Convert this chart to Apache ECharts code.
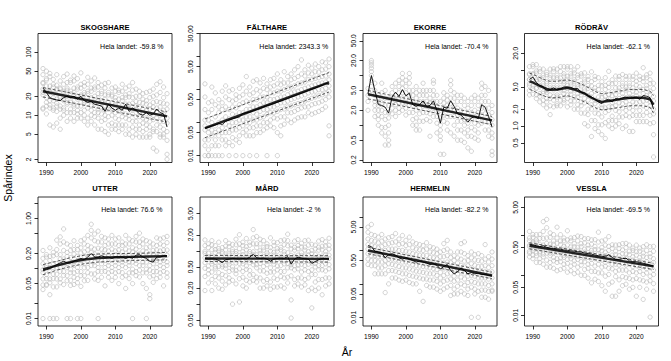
<!DOCTYPE html>
<html><head><meta charset="utf-8">
<script src="https://cdn.jsdelivr.net/npm/echarts@6/dist/echarts.min.js"></script>
<style>html,body{margin:0;padding:0;background:#fff}#c{width:671px;height:361px}</style>
</head><body><div id="c"></div>
<script>
const years = [1989,1990,1991,1992,1993,1994,1995,1996,1997,1998,1999,2000,2001,2002,2003,2004,2005,2006,2007,2008,2009,2010,2011,2012,2013,2014,2015,2016,2017,2018,2019,2020,2021,2022,2023,2024,2025];
const titles = ['SKOGSHARE','FÄLTHARE','EKORRE','RÖDRÄV','UTTER','MÅRD','HERMELIN','VESSLA'];
const changes = ['-59.8','2343.3','-70.4','-62.1','76.6','-2','-82.2','-69.5'];
const xTicks = [1990,2000,2010,2020];
const yMin = [1.78,0.0062,0.178,0.223,0.0071,0.039,0.0055,0.0054];
const yMax = [198,50.5,70,45,2.7,10.2,39.7,9.1];
const yTicks = [[2,5,10,20,50,100],[0.01,0.05,0.1,0.5,1,5,10,50],[0.2,0.5,1,2,5,10,20,50],[0.5,1,2,5,10,20],[0.01,0.02,0.05,0.1,0.2,0.5,1,2],[0.05,0.1,0.2,0.5,1,2,5],[0.01,0.05,0.1,0.5,1,5,10],[0.01,0.05,0.1,0.5,1,5]];
const yLabels = [['2','5','10','20','50','100'],['0.01','0.05','0.50','5.00','50.00'],['0.2','0.5','2.0','5.0','20.0','50.0'],['0.5','1.0','2.0','5.0','20.0'],['0.01','0.05','0.20','1.00'],['0.05','0.20','0.50','2.00','5.00'],['0.01','0.05','0.50','5.00'],['0.01','0.05','0.50','5.00']];

// ---- SKOGSHARE ----
const skogObs = [[55,44,33,32,26,23,21,13,12.5],[50,38,36,29,24,19,16,14,10.5],[46,41,29,24,23,17,14.5,13,7],[37,31,28,22,19,17,13,12,6.5],[44,30,26,25,18,15.5,14,11.5,7.5],[35,27,26,20,19,14,12.5,9,6],[41,31,24,23,18,17,13,12,10],[45,33,27,25,20,16,15,11,8],[36,33,24,22,17,16,12.5,11,9],[42,35,27,23,21,15,14,11,8],[38,28,26,20,18,14,12,10.5,9],[47,31,27,21,20,16,14,11,9],[33,29,23,21,17,16,12,10,8],[40,31,24,22,17,15,13,9,7],[35,27,24,19,18,14.5,12,10,8],[39,28,26,20,16,15,11,9.5,7],[33,28,22,19,17,12.5,11,9,6],[30,24,22,17,16,13,10.5,8,6],[32,27,21,18,14,12,10,8.5,5.5],[33,23,21,16,14,12.5,9.5,7,5],[27,21,20,16,13.5,12,10,7.5,6],[28,24,19,17,14.5,11,9,7,6],[25,23,18,14.5,13,11.5,8.5,7,5.5],[31,24,19,17,13,11,9.5,7,6],[27,21,19,15,13.5,10.5,9,7,5],[29,22,19.5,15,13,10,8.5,6,5],[33,25,19,15.5,12,10.5,8,6.5,4.5],[26,20,16.5,14,12.5,9.5,8,6,5],[24,20,16,13.5,11,9.5,7,6,4.5],[22,18,15.5,12.5,11,9,7.5,5.5,4.5],[23,17,15,12,10.5,8.5,7,6,4.5],[24,19,14.5,12.5,10,8,6.5,5,4.5],[26,20,16,13.5,10,8.5,6,5.5,3],[31,21,16.5,13,11.5,9,7,5.5,2.7],[34,23,16,13.5,10,8,6.5,5,4.5],[28,19,15.5,12,10.5,8,6,5,4.5],[22,15,12.5,9,7.5,5.5,4,2.4,2]];
const skogIndex = [27,23,19,18,17.5,17,19,20,19,20,18,20,17,16,16.5,15,14.5,14,11.5,15,13,12,13,12,15,11.5,13,12,10.5,10,11,10,10.5,12.5,11,10.5,6.5];
const skogKnots = [1989,2025];
const skogTrend = [24,9.6];
const skogUpper = [27.5,11.3];
const skogLower = [19.5,7.8];

// ---- FÄLTHARE ----
const faltObs = [[1.5,0.6,0.25,0.12,0.08,0.06,0.03,0.02,0.01],[0.4,0.2,0.12,0.07,0.05,0.03,0.015,0.01,0.01],[1.2,0.45,0.25,0.1,0.06,0.04,0.02,0.01],[0.8,0.35,0.15,0.08,0.05,0.03,0.02,0.01],[0.5,0.3,0.2,0.1,0.06,0.04,0.02,0.01],[0.9,0.4,0.25,0.12,0.07,0.05,0.03,0.01],[1.3,0.6,0.3,0.15,0.09,0.05,0.03,0.02],[0.9,0.5,0.25,0.13,0.08,0.05,0.025,0.01],[1.0,0.45,0.3,0.18,0.1,0.06,0.035,0.02],[0.7,0.5,0.28,0.16,0.1,0.06,0.03,0.01],[1.1,0.6,0.35,0.2,0.12,0.07,0.04,0.025],[1.4,0.7,0.4,0.2,0.12,0.08,0.05,0.01],[2.5,0.9,0.45,0.25,0.15,0.1,0.06,0.04],[1.2,0.7,0.4,0.25,0.15,0.1,0.07,0.04,0.01],[1.8,0.8,0.5,0.3,0.2,0.12,0.07,0.04],[2.0,1.0,0.5,0.3,0.18,0.12,0.08,0.05,0.01],[1.6,0.9,0.6,0.35,0.22,0.14,0.08,0.05],[2.2,1.1,0.6,0.4,0.25,0.15,0.1,0.06],[1.5,1.0,0.6,0.4,0.25,0.18,0.1,0.07,0.01],[2.0,1.2,0.8,0.5,0.3,0.2,0.12,0.08],[2.2,1.3,0.8,0.5,0.3,0.2,0.14,0.07],[3.0,1.5,0.9,0.55,0.35,0.22,0.13,0.05,0.01],[2.0,1.4,0.9,0.6,0.4,0.25,0.15,0.08,0.04],[3.5,1.6,1.0,0.6,0.4,0.26,0.15,0.09],[2.5,1.6,1.1,0.7,0.45,0.3,0.2,0.12],[3.0,2.0,1.2,0.8,0.5,0.32,0.2,0.1],[4.0,2.2,1.3,0.85,0.55,0.35,0.22,0.12],[5.0,2.5,1.5,0.9,0.6,0.38,0.25,0.14],[8.0,3.0,1.6,1.0,0.65,0.4,0.28,0.15],[4.0,2.6,1.7,1.1,0.7,0.45,0.3,0.15],[5.5,3.2,2.0,1.2,0.8,0.5,0.3,0.2],[4.5,3.0,2.0,1.3,0.85,0.55,0.35,0.18],[6.0,3.5,2.2,1.4,0.9,0.6,0.38,0.2],[5.0,3.4,2.3,1.5,1.0,0.65,0.4,0.22],[7.0,4.0,2.5,1.6,1.0,0.7,0.45,0.25],[6.5,4.2,2.6,1.7,1.1,0.75,0.5,0.3],[8.5,5.0,3.0,2.0,1.3,0.9,0.6,0.08,0.04]];
const faltIndex = [0.068,0.072,0.08,0.085,0.095,0.088,0.11,0.12,0.13,0.14,0.15,0.19,0.2,0.21,0.23,0.25,0.27,0.3,0.33,0.35,0.38,0.42,0.45,0.5,0.54,0.6,0.65,0.72,0.78,0.86,0.95,1.03,1.12,1.25,1.35,1.55,1.45];
const faltKnots = [1989,2025];
const faltTrend = [0.068,1.66];
const faltUpper = [0.13,3.3];
const faltLower = [0.035,0.85];

// ---- EKORRE ----
const ekorObs = [[5.5,4,3,2],[20,18,16,14,12,10,8,6,5],[7,5,4,3,2.5,2,1.5],[4,3,2.5,2,1.6,1.3,1],[7,4.5,3.5,2.6,2,1.5,0.9,0.7],[5,3.5,2.5,1.8,1.3,0.9,0.6,0.4],[3.5,2.5,1.8,1.4,1,0.7,0.5,0.4],[6,4.5,3.5,2.8,2.2,1.7],[7,5,4,3.2,2.6,2,1.5],[8,6,4.5,3.5,2.8,2.2,1.8],[11,9,7,5.5,4.5,3.5,2.8,2],[8,6,4.5,3.5,2.8,2.2,1.6],[11,9,7,5,4,3,2.5,1.8],[5,4,3,2.4,1.8,1.3,1],[6,4.5,3.5,2.6,2,1.4,1,0.8],[5,4,3,2.2,1.7,1.2,0.8],[7,5,4,3,2.4,1.8,1.2],[5,4,3,2.4,1.8,1.3],[5,3.5,2.8,2.2,1.7,1.2,0.6],[8,7,5,4,3,2.2,1.5],[4,3,2.4,1.9,1.5,1.1,0.7],[3,2,1.4,1,0.8,0.6,0.5,0.26],[4.5,3.5,2.8,2.2,1.6,1.2,0.26],[4,3.2,2.5,2,1.5,1.1,0.8],[8,6.5,5,3.5,2.7,2,1.5,0.7],[4.5,3.5,2.5,2,1.5,1,0.6],[4,3,2.2,1.6,1.2,0.8,0.5],[4,3,2,1.6,1.2,0.8,0.5],[3.5,2.5,1.8,1.3,1,0.7,0.45],[3,2.2,1.5,1.1,0.8,0.6,0.35],[3.5,2.5,1.8,1.3,0.9,0.6,0.3],[4,3,2,1.5,1.1,0.8,0.55],[3.5,2.5,1.8,1.3,1,0.7,0.5],[7,5.5,4,3,2.2,1.6,1.1],[6,4,3,2.2,1.7,1.2,0.8],[5,3,2.2,1.6,1.2,0.8,0.6],[2.5,1.8,1.3,1,0.7,0.55,0.3,0.25]];
const ekorIndex = [4.3,10,5.0,2.6,2.5,2.3,1.75,3.7,4.6,3.8,5.2,3.9,4.4,2.6,2.4,2.6,3.1,2.4,2.5,3.1,2.0,1.1,2.3,2.2,3.1,2.4,1.7,1.6,1.35,1.15,1.4,1.5,1.35,2.6,2.3,1.5,0.92];
const ekorKnots = [1989,2025];
const ekorTrend = [4.2,1.25];
const ekorUpper = [5.0,1.5];
const ekorLower = [3.4,1.02];

// ---- RÖDRÄV ----
const rodObs = [[11.5,8.6,8.3,6.7,6.8,5.7,5.2,4.3,3.6],[12.5,11.5,8.6,8.4,6.7,6.3,5.2,4.7,3.7],[12.5,9.6,8.8,6.7,6.3,4.8,4.7,3.6,3.1],[10.5,9.4,7.2,6.8,5.3,5.0,3.8,3.4,2.7],[10.4,8.1,7.3,5.7,5.2,4.1,3.8,2.9,2.4],[9.1,8.3,6.2,5.7,4.3,4.0,3.1,2.7,2.1],[10.4,8.1,7.3,5.3,4.8,3.6,3.1,2.3,1.6],[10.5,9.4,7.2,6.3,4.8,4.4,3.4,2.9,2.2],[10.4,8.1,7.3,5.3,4.8,3.6,3.3,2.5,2.3],[11.5,9.4,7.2,6.3,4.8,4.4,3.4,2.9,2.3],[11.5,8.6,7.8,6.2,5.7,4.3,3.8,2.9,2.6],[11.5,10.4,7.7,6.8,5.3,4.7,3.6,3.1,2.2],[11.5,8.6,7.8,5.9,5.4,4.2,3.7,2.8,2.4],[10,8.9,6.7,6.2,4.8,4.4,3.3,2.8,2.0],[11.5,8.1,7.3,5.5,5.0,3.8,3.3,2.4,2.0],[8.6,7.8,5.7,5.2,4.0,3.6,2.7,2.3,1.7],[8.9,6.7,6.1,4.6,4.2,3.1,2.6,1.7,1.1],[7.7,6.8,5.3,4.7,3.5,2.9,2.0,1.6,1.0],[9.3,6.2,5.2,3.8,3.3,2.4,2.0,1.25,0.65],[7.7,6.8,4.8,4.2,2.9,2.5,1.7,1.25,0.9],[7.3,5.3,4.5,3.3,2.8,2.0,1.65,1.05,0.8],[6.2,5.2,3.8,3.3,2.4,2.1,1.45,1.05,0.7],[7.3,5.3,4.5,3.4,2.9,2.1,1.75,1.15,0.6],[9.5,5.8,4.9,3.6,3.1,2.2,1.9,1.25,1.0],[6.7,5.7,4.1,3.5,2.6,2.2,1.5,1.25,0.9],[7.8,5.8,4.8,3.6,3.1,2.3,1.9,1.25,1.0],[7.7,6.8,4.8,4.2,3.1,2.6,1.8,1.45,1.1],[8.3,5.8,5.2,3.8,3.3,2.5,2.1,1.45,0.9],[7.7,6.8,5.0,4.4,3.2,2.7,1.9,1.55,1.0],[7.8,5.8,5.2,3.8,3.3,2.4,2.1,1.45,0.8],[7.7,6.8,4.8,4.2,3.2,2.7,1.9,1.55,0.8],[8.8,6.3,5.4,4.0,3.5,2.6,2.2,1.55,1.2],[7.7,6.8,5.0,4.4,3.2,2.7,1.9,1.55,1.2],[11,7.2,6.2,4.5,3.8,2.8,2.3,1.55,1.2],[8.2,7.3,5.3,4.7,3.5,2.9,2.1,1.75,1.2],[8.8,6.7,5.7,4.2,3.6,2.7,2.3,1.55,1.1],[5.8,4.7,3.4,2.8,2.0,1.65,1.15,0.7,0.28]];
const rodIndex = [6.8,7.5,6.0,5.3,5.0,4.2,4.5,4.8,4.4,4.6,5.0,5.0,4.9,4.6,4.7,4.0,3.9,3.4,3.3,3.0,2.7,2.5,2.9,3.0,2.7,3.1,3.0,3.2,3.3,3.1,3.2,3.3,3.0,3.5,3.4,3.2,2.0];
const rodKnots = [1989,1990,1992,1994,1995,1997,2000,2002,2005,2007,2009,2010,2012,2015,2018,2022,2024,2025];
const rodTrend = [6.3,6.0,5.2,4.6,4.45,4.5,4.8,4.5,3.8,3.2,2.8,2.7,2.8,3.0,3.2,3.2,3.0,2.4];
const rodUpper = [8.8,8.4,7.3,6.5,6.3,6.3,6.7,6.3,5.3,4.5,3.9,3.8,3.9,4.2,4.5,4.5,4.2,3.5];
const rodLower = [4.5,4.3,3.7,3.3,3.2,3.2,3.5,3.2,2.7,2.3,2.0,1.95,2.0,2.15,2.3,2.3,2.15,1.7];

// ---- UTTER ----
const utterObs = [[0.23,0.16,0.125,0.095,0.083,0.062,0.047,0.038,0.01],[0.19,0.17,0.115,0.104,0.076,0.063,0.048,0.046],[0.26,0.175,0.145,0.105,0.088,0.062,0.052,0.03,0.01],[0.21,0.18,0.125,0.105,0.077,0.063,0.043,0.01],[0.37,0.24,0.19,0.125,0.104,0.077,0.062,0.043,0.01],[0.43,0.31,0.19,0.155,0.105,0.088,0.062,0.052],[0.62,0.34,0.23,0.155,0.125,0.087,0.073,0.048],[0.31,0.21,0.175,0.125,0.104,0.072,0.057,0.01],[0.29,0.23,0.165,0.135,0.096,0.083,0.058,0.046,0.01],[0.36,0.24,0.195,0.135,0.115,0.082,0.067,0.048],[0.29,0.24,0.175,0.145,0.105,0.088,0.063,0.052,0.01],[0.36,0.26,0.205,0.145,0.125,0.087,0.072,0.044,0.01],[0.39,0.31,0.215,0.175,0.125,0.104,0.072,0.057],[0.46,0.29,0.235,0.175,0.145,0.105,0.083,0.058],[0.77,0.58,0.41,0.27,0.21,0.145,0.115,0.078],[0.49,0.36,0.245,0.195,0.135,0.115,0.078,0.062],[0.56,0.34,0.255,0.185,0.155,0.105,0.088,0.058,0.01],[0.44,0.34,0.245,0.195,0.145,0.125,0.087,0.067],[0.41,0.29,0.235,0.175,0.145,0.105,0.088,0.045],[0.39,0.31,0.225,0.185,0.135,0.115,0.082,0.067],[0.46,0.31,0.245,0.175,0.145,0.105,0.088,0.058],[0.39,0.31,0.225,0.185,0.135,0.115,0.082,0.067],[0.41,0.29,0.235,0.175,0.145,0.105,0.087,0.05],[0.34,0.29,0.215,0.175,0.135,0.115,0.083,0.067],[0.46,0.31,0.245,0.175,0.145,0.105,0.072,0.04],[0.39,0.31,0.225,0.185,0.135,0.115,0.082,0.063],[0.36,0.26,0.215,0.165,0.135,0.097,0.082,0.05,0.01],[0.44,0.34,0.245,0.195,0.145,0.125,0.087,0.072],[0.51,0.34,0.275,0.195,0.165,0.115,0.093,0.068],[0.39,0.31,0.225,0.185,0.135,0.115,0.082,0.05],[0.36,0.26,0.215,0.165,0.135,0.097,0.082,0.04,0.01],[0.34,0.27,0.195,0.155,0.115,0.093,0.068,0.03,0.025],[0.31,0.23,0.195,0.145,0.125,0.087,0.072,0.053],[0.41,0.29,0.235,0.175,0.145,0.105,0.087,0.063],[0.39,0.31,0.225,0.185,0.135,0.115,0.082,0.067],[0.41,0.29,0.235,0.175,0.145,0.105,0.088,0.045],[0.44,0.33,0.235,0.185,0.135,0.115,0.082,0.067]];
const utterIndex = [0.09,0.095,0.1,0.11,0.12,0.13,0.14,0.13,0.13,0.14,0.15,0.16,0.15,0.17,0.2,0.17,0.17,0.18,0.17,0.17,0.16,0.17,0.17,0.17,0.16,0.17,0.16,0.185,0.19,0.17,0.16,0.14,0.135,0.17,0.17,0.18,0.18];
const utterKnots = [1989,1993,1997,2001,2005,2010,2015,2020,2025];
const utterTrend = [0.096,0.115,0.135,0.152,0.163,0.168,0.171,0.174,0.177];
const utterUpper = [0.12,0.14,0.165,0.185,0.195,0.2,0.2,0.205,0.21];
const utterLower = [0.075,0.093,0.11,0.125,0.135,0.14,0.145,0.147,0.15];

// ---- MÅRD ----
const mardObs = [[1.6,1.25,0.98,0.9,0.74,0.6,0.47,0.33,0.18],[1.35,1.15,0.9,0.77,0.7,0.52,0.44,0.37,0.25],[1.55,1.3,1.05,0.8,0.63,0.57,0.4,0.29,0.18],[1.25,1.05,0.93,0.72,0.61,0.5,0.46,0.33,0.24],[1.45,1.1,0.99,0.84,0.64,0.51,0.39,0.31,0.2],[1.15,0.95,0.88,0.66,0.55,0.5,0.36,0.27,0.19],[1.55,1.22,1.04,0.79,0.7,0.53,0.47,0.34,0.23],[1.38,1.2,0.9,0.83,0.62,0.56,0.41,0.31,0.26],[1.32,1.05,0.96,0.74,0.68,0.5,0.44,0.28,0.1],[1.65,1.3,0.97,0.88,0.73,0.59,0.43,0.37,0.24],[2.0,1.35,1.1,0.81,0.72,0.58,0.46,0.3,0.11],[1.45,1.25,0.96,0.85,0.64,0.57,0.41,0.32,0.22],[1.7,1.2,1.04,0.79,0.71,0.52,0.45,0.28,0.2],[1.45,1.27,0.97,0.88,0.67,0.6,0.43,0.35,0.26],[2.5,1.75,1.35,0.96,0.85,0.63,0.55,0.36,0.28],[1.85,1.35,1.15,0.84,0.75,0.55,0.48,0.32,0.26],[1.65,1.35,1.0,0.89,0.67,0.58,0.42,0.31,0.2],[1.55,1.15,1.03,0.78,0.7,0.51,0.42,0.27,0.2],[1.35,1.2,0.91,0.83,0.63,0.55,0.38,0.29,0.22],[1.75,1.15,0.99,0.73,0.64,0.48,0.4,0.26,0.19],[1.45,1.25,0.94,0.83,0.63,0.56,0.4,0.31,0.21],[1.42,1.1,0.98,0.76,0.69,0.52,0.44,0.29,0.21],[1.55,1.16,1.04,0.79,0.71,0.53,0.41,0.33,0.22],[1.6,1.3,0.96,0.86,0.65,0.57,0.41,0.31,0.2],[2.05,1.55,1.25,0.92,0.78,0.58,0.48,0.32,0.25],[1.28,1.08,0.82,0.72,0.55,0.48,0.34,0.12,0.055],[1.52,1.16,1.03,0.79,0.7,0.53,0.44,0.29,0.22],[1.62,1.26,1.09,0.83,0.73,0.54,0.46,0.31,0.24],[1.38,1.18,0.92,0.82,0.64,0.56,0.4,0.31,0.21],[1.55,1.17,1.03,0.8,0.69,0.53,0.44,0.29,0.23],[1.58,1.28,0.97,0.84,0.65,0.56,0.41,0.31,0.18],[1.32,1.02,0.88,0.68,0.59,0.44,0.36,0.2,0.085],[1.28,1.08,0.85,0.74,0.58,0.5,0.36,0.26,0.18],[1.52,1.17,1.03,0.79,0.7,0.53,0.44,0.29,0.2],[1.62,1.22,1.04,0.8,0.7,0.53,0.44,0.29,0.15],[1.47,1.24,0.97,0.85,0.66,0.57,0.42,0.31,0.22],[1.72,1.27,1.08,0.83,0.72,0.55,0.46,0.31,0.24]];
const mardIndex = [0.72,0.7,0.71,0.7,0.66,0.6,0.68,0.7,0.72,0.71,0.7,0.72,0.7,0.76,0.86,0.74,0.72,0.73,0.7,0.64,0.7,0.72,0.73,0.72,0.78,0.56,0.7,0.76,0.73,0.71,0.7,0.58,0.63,0.68,0.72,0.72,0.7];
const mardKnots = [1989,2025];
const mardTrend = [0.72,0.705];
const mardUpper = [0.82,0.81];
const mardLower = [0.63,0.615];

// ---- HERMELIN ----
const hermObs = [[5,3.5,2.2,1.5,1.1,0.8,0.55,0.38],[6,3,2,1.4,1,0.7,0.5,0.35],[2.8,1.9,1.3,0.95,0.7,0.5,0.35,0.2],[2.5,1.7,1.2,0.9,0.65,0.45,0.3,0.2],[3,1.9,1.3,0.9,0.65,0.45,0.3,0.2],[2.2,1.5,1,0.7,0.5,0.35,0.2,0.055],[2.4,1.6,1.1,0.8,0.55,0.4,0.25,0.1],[2.6,1.7,1.1,0.8,0.55,0.38,0.25,0.15],[3.2,1.8,1.1,0.75,0.52,0.36,0.24,0.15],[2.2,1.5,1,0.7,0.48,0.33,0.22,0.13],[2.8,1.6,1,0.65,0.45,0.3,0.2,0.12],[2,1.4,0.95,0.65,0.45,0.3,0.2,0.13],[2.5,1.5,0.9,0.6,0.42,0.28,0.18,0.11],[1.8,1.2,0.8,0.55,0.38,0.26,0.17,0.1],[1.6,1.1,0.75,0.5,0.35,0.24,0.16,0.1],[1.5,1.05,0.72,0.5,0.34,0.23,0.15,0.06],[1.4,1,0.7,0.48,0.33,0.22,0.14,0.03],[1.7,1.1,0.7,0.47,0.32,0.21,0.14,0.09],[1.3,0.9,0.62,0.43,0.3,0.2,0.13,0.08],[1.2,0.85,0.6,0.42,0.29,0.2,0.13,0.08],[1.1,0.8,0.56,0.39,0.27,0.18,0.12,0.07],[0.9,0.65,0.45,0.32,0.22,0.15,0.1,0.06],[1.6,1,0.65,0.42,0.28,0.18,0.12,0.07],[2,1.1,0.7,0.45,0.3,0.2,0.13,0.08],[0.9,0.62,0.43,0.3,0.21,0.14,0.09,0.045],[0.7,0.5,0.35,0.25,0.17,0.12,0.07,0.05],[0.9,0.6,0.42,0.29,0.2,0.13,0.085,0.05],[1.6,0.9,0.55,0.36,0.24,0.16,0.1,0.06],[1.8,0.8,0.48,0.32,0.21,0.14,0.09,0.05],[0.7,0.5,0.35,0.24,0.17,0.11,0.07,0.045],[0.9,0.6,0.4,0.27,0.18,0.12,0.08,0.01],[0.75,0.52,0.36,0.25,0.17,0.11,0.07,0.05],[0.8,0.5,0.33,0.22,0.15,0.1,0.06,0.01],[0.7,0.48,0.33,0.22,0.15,0.1,0.065,0.04],[1.5,0.55,0.35,0.23,0.15,0.1,0.065,0.04],[0.65,0.45,0.31,0.21,0.14,0.09,0.06,0.035],[0.9,0.55,0.35,0.23,0.15,0.1,0.065,0.06]];
const hermIndex = [1.4,1.3,0.95,0.9,0.85,0.6,0.75,0.8,0.72,0.6,0.55,0.6,0.55,0.5,0.45,0.48,0.45,0.42,0.38,0.4,0.36,0.28,0.33,0.38,0.25,0.2,0.23,0.3,0.25,0.2,0.22,0.2,0.21,0.19,0.19,0.18,0.17];
const hermKnots = [1989,2025];
const hermTrend = [1.0,0.178];
const hermUpper = [1.25,0.225];
const hermLower = [0.8,0.142];

// ---- VESSLA ----
const vessObs = [[1.25,0.86,0.73,0.57,0.52,0.4,0.36,0.29],[1.05,0.89,0.67,0.61,0.46,0.42,0.32,0.26],[1.04,0.77,0.68,0.53,0.47,0.36,0.31,0.21],[1.05,0.84,0.6,0.52,0.4,0.36,0.26,0.21],[2.2,1.25,0.84,0.57,0.48,0.34,0.29,0.19],[2.5,1.55,0.86,0.63,0.43,0.36,0.24,0.16],[1.15,0.89,0.6,0.5,0.36,0.31,0.21,0.16],[1.04,0.72,0.6,0.44,0.38,0.28,0.23,0.15],[1.6,0.86,0.63,0.43,0.37,0.26,0.21,0.13],[1.04,0.72,0.59,0.43,0.37,0.27,0.22,0.14],[0.86,0.73,0.53,0.45,0.32,0.28,0.19,0.15],[1.3,0.77,0.57,0.4,0.34,0.25,0.2,0.12],[0.86,0.73,0.51,0.43,0.31,0.26,0.17,0.13],[0.88,0.62,0.52,0.38,0.32,0.23,0.19,0.11],[0.96,0.73,0.5,0.42,0.3,0.25,0.16,0.12],[0.93,0.62,0.52,0.36,0.31,0.22,0.18,0.1],[0.82,0.65,0.45,0.38,0.27,0.22,0.14,0.1],[0.83,0.57,0.47,0.33,0.28,0.19,0.15,0.085],[0.77,0.6,0.42,0.36,0.25,0.2,0.125,0.065],[0.78,0.53,0.44,0.3,0.26,0.17,0.125,0.08],[1.2,0.68,0.43,0.35,0.24,0.19,0.115,0.07],[0.72,0.5,0.41,0.29,0.24,0.16,0.115,0.055],[0.77,0.57,0.38,0.31,0.21,0.17,0.095,0.04],[0.93,0.53,0.42,0.29,0.23,0.15,0.105,0.06],[0.58,0.47,0.32,0.27,0.19,0.145,0.068,0.03],[0.57,0.4,0.33,0.23,0.19,0.125,0.093,0.03],[0.58,0.47,0.31,0.26,0.18,0.135,0.077,0.04],[0.62,0.43,0.35,0.25,0.2,0.135,0.093,0.055],[0.63,0.49,0.34,0.27,0.18,0.135,0.087,0.06],[0.57,0.4,0.33,0.23,0.19,0.115,0.083,0.045],[0.48,0.42,0.29,0.24,0.165,0.125,0.077,0.05],[0.57,0.39,0.32,0.22,0.175,0.115,0.083,0.03],[0.48,0.4,0.28,0.23,0.155,0.125,0.077,0.05],[0.52,0.36,0.3,0.21,0.165,0.105,0.073,0.025],[0.58,0.42,0.28,0.22,0.145,0.115,0.068,0.045],[0.52,0.35,0.29,0.2,0.155,0.095,0.073,0.009],[0.53,0.4,0.26,0.21,0.135,0.105,0.062,0.04]];
const vessIndex = [0.6,0.58,0.55,0.52,0.55,0.5,0.48,0.47,0.46,0.45,0.43,0.42,0.41,0.4,0.39,0.38,0.36,0.35,0.34,0.32,0.31,0.3,0.29,0.33,0.28,0.25,0.25,0.26,0.27,0.23,0.22,0.22,0.21,0.2,0.19,0.18,0.17];
const vessKnots = [1989,2025];
const vessTrend = [0.55,0.168];
const vessUpper = [0.65,0.2];
const vessLower = [0.46,0.14];

const panels = [
  [skogObs,skogIndex,skogKnots,skogTrend,skogUpper,skogLower],
  [faltObs,faltIndex,faltKnots,faltTrend,faltUpper,faltLower],
  [ekorObs,ekorIndex,ekorKnots,ekorTrend,ekorUpper,ekorLower],
  [rodObs,rodIndex,rodKnots,rodTrend,rodUpper,rodLower],
  [utterObs,utterIndex,utterKnots,utterTrend,utterUpper,utterLower],
  [mardObs,mardIndex,mardKnots,mardTrend,mardUpper,mardLower],
  [hermObs,hermIndex,hermKnots,hermTrend,hermUpper,hermLower],
  [vessObs,vessIndex,vessKnots,vessTrend,vessUpper,vessLower]
];

const FONT = '"Liberation Sans", Arial, sans-serif';
const LEFTS = [38,200,363,524.5], TOPS = [33.5,197], W = 134, H = 129;
const TITLE_Y = [27,188.5], ANN_Y = [46.5,209];
const grid = [], xAxis = [], yAxis = [], series = [], graphic = [];
const pair = (xs, vs) => xs.map((x, k) => [x, vs[k]]);

panels.forEach((p, i) => {
  const [obs, idx, knots, trend, upper, lower] = p;
  const col = i % 4, row = Math.floor(i / 4);
  grid.push({left: LEFTS[col], top: TOPS[row], width: W, height: H, show: true,
    borderColor: '#000', borderWidth: 0.8, backgroundColor: 'transparent'});
  xAxis.push({gridIndex: i, type: 'value', min: 1987.56, max: 2026.44,
    axisLine: {show: false}, splitLine: {show: false},
    axisTick: {show: true, length: 3.5, customValues: xTicks, lineStyle: {color: '#000', width: 0.8}},
    axisLabel: {customValues: xTicks, fontSize: 6.6, color: '#000', margin: 6.5, fontFamily: FONT,
      formatter: v => String(Math.round(v))}});
  const labs = yLabels[i];
  yAxis.push({gridIndex: i, type: 'log', logBase: 10, min: yMin[i], max: yMax[i],
    axisLine: {show: false}, splitLine: {show: false}, minorTick: {show: false},
    axisTick: {show: true, length: 3.5, customValues: yTicks[i], lineStyle: {color: '#000', width: 0.8}},
    axisLabel: {customValues: labs.map(Number), rotate: 90, fontSize: 6.6, color: '#000', margin: 6, fontFamily: FONT,
      formatter: v => { for (const l of labs) { if (Math.abs(Number(l) / v - 1) < 1e-6) return l; } return ''; }}});
  const pts = [];
  obs.forEach((vals, k) => vals.forEach(v => pts.push([years[k], v])));
  series.push({type: 'scatter', xAxisIndex: i, yAxisIndex: i, data: pts, symbol: 'circle', symbolSize: 4.3,
    itemStyle: {color: 'rgba(255,255,255,0)', borderColor: '#b5b5b5', borderWidth: 0.75}, silent: true, z: 1});
  [upper, lower].forEach(b => series.push({type: 'line', xAxisIndex: i, yAxisIndex: i, data: pair(knots, b),
    symbol: 'none', smooth: false, lineStyle: {color: '#333', width: 0.8, type: [3, 2]}, silent: true, z: 2}));
  series.push({type: 'line', xAxisIndex: i, yAxisIndex: i, data: pair(knots, trend), symbol: 'none',
    lineStyle: {color: '#222', width: 2.4}, silent: true, z: 3});
  series.push({type: 'line', xAxisIndex: i, yAxisIndex: i, data: pair(years, idx), symbol: 'none',
    lineStyle: {color: '#000', width: 0.9}, silent: true, z: 4});
  graphic.push({type: 'text', x: LEFTS[col] + W / 2, y: TITLE_Y[row], silent: true,
    style: {text: titles[i], fontSize: 7.6, fontWeight: 'bold', fontFamily: FONT, fill: '#000', align: 'center', verticalAlign: 'middle'}});
  graphic.push({type: 'text', x: LEFTS[col] + W * 0.70, y: ANN_Y[row], silent: true,
    style: {text: 'Hela landet: ' + changes[i] + ' %', fontSize: 7, fontFamily: FONT, fill: '#000', align: 'center', verticalAlign: 'middle'}});
});
graphic.push({type: 'text', x: 8, y: 178, rotation: Math.PI / 2, silent: true,
  style: {text: 'Spårindex', fontSize: 10.5, fontFamily: FONT, fill: '#000', align: 'center', verticalAlign: 'middle'}});
graphic.push({type: 'text', x: 347, y: 352, silent: true,
  style: {text: 'År', fontSize: 10.5, fontFamily: FONT, fill: '#000', align: 'center', verticalAlign: 'middle'}});

const chart = echarts.init(document.getElementById('c'), null, {renderer: 'svg', width: 671, height: 361});
chart.setOption({animation: false, backgroundColor: '#fff', grid, xAxis, yAxis, series, graphic});
</script></body></html>
